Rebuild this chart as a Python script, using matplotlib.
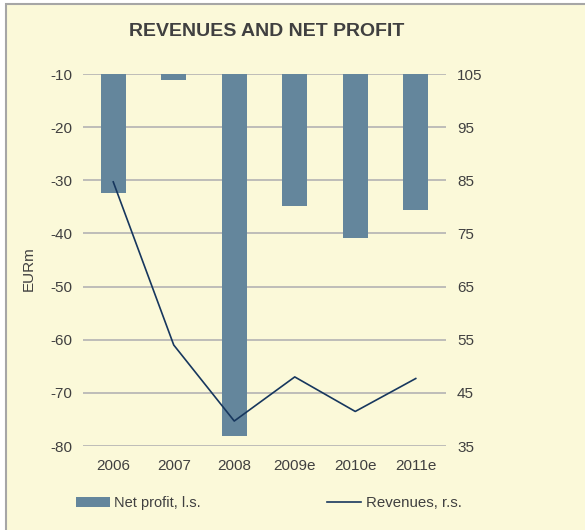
import matplotlib
matplotlib.use("Agg")
import matplotlib.pyplot as plt
from matplotlib.patches import Rectangle
import numpy as np

years = ["2006", "2007", "2008", "2009e", "2010e", "2011e"]
net_profit = [-32.4, -11.2, -78.2, -34.8, -40.9, -35.6]
revenues = [84.7, 54.0, 39.7, 48.0, 41.5, 47.7]

left_ticks = [-80, -70, -60, -50, -40, -30, -20, -10]
right_ticks = [35, 45, 55, 65, 75, 85, 95, 105]

BG = "#FBF9D9"
BAR = "#64869C"
LINE = "#17375E"
TXT = "#404040"
GRID = "#B3B3B3"

plt.rcParams["font.family"] = ["Liberation Sans", "DejaVu Sans"]

fig = plt.figure(figsize=(5.85, 5.3), dpi=100)
fig.patch.set_facecolor("white")
fig.patches.append(Rectangle((6 / 585, -0.02), 1.0, (530 - 4) / 530 + 0.02,
                             transform=fig.transFigure, facecolor=BG,
                             edgecolor="#A6A6A6", linewidth=1.5, zorder=-10))

ax = fig.add_axes([83 / 585, 1 - 446 / 530, 363 / 585, 372 / 530])
ax.set_facecolor("none")
x = np.arange(len(years))

# bars hang from the top of the axis (-10)
ax.bar(x, [v - (-10) for v in net_profit], bottom=-10, width=0.41,
       color=BAR, label="Net profit, l.s.", zorder=2)
ax.set_ylim(-80, -10)
ax.set_xlim(-0.5, len(years) - 0.5)
ax.set_yticks(left_ticks)
ax.set_yticklabels([str(t) for t in left_ticks])
ax.set_xticks(x)
ax.set_xticklabels(years)
ax.grid(axis="y", color=GRID, linewidth=1.2, zorder=1)
ax.set_axisbelow(True)
for s in ax.spines.values():
    s.set_visible(False)
ax.tick_params(length=0, labelsize=11, labelcolor=TXT, pad=8)
ax.tick_params(axis="x", pad=9)
ax.set_ylabel("EURm", fontsize=11, color=TXT)
ax.yaxis.set_label_coords(-47 / 363, 0.478)

ax2 = ax.twinx()
ax2.plot(x, revenues, color=LINE, linewidth=1.2, label="Revenues, r.s.",
         zorder=3)
ax2.set_ylim(35, 105)
ax2.set_yticks(right_ticks)
for s in ax2.spines.values():
    s.set_visible(False)
ax2.tick_params(length=0, labelsize=11, labelcolor=TXT, pad=8)

fig.text(267 / 585, 1 - 31 / 530, "REVENUES AND NET PROFIT", ha="center",
         va="center", fontsize=14, fontweight="bold", color=TXT)

h1, l1 = ax.get_legend_handles_labels()
h2, l2 = ax2.get_legend_handles_labels()
fig.legend(h1, l1, loc="center left", bbox_to_anchor=(63 / 585, 1 - 503 / 530),
           frameon=False, fontsize=10.5, labelcolor=TXT, handlelength=2.3,
           handletextpad=0.3)
fig.legend(h2, l2, loc="center left", bbox_to_anchor=(313 / 585, 1 - 503 / 530),
           frameon=False, fontsize=10.8, labelcolor=TXT, handlelength=2.3,
           handletextpad=0.3)

fig.savefig("out.png", dpi=100, facecolor=fig.get_facecolor())
